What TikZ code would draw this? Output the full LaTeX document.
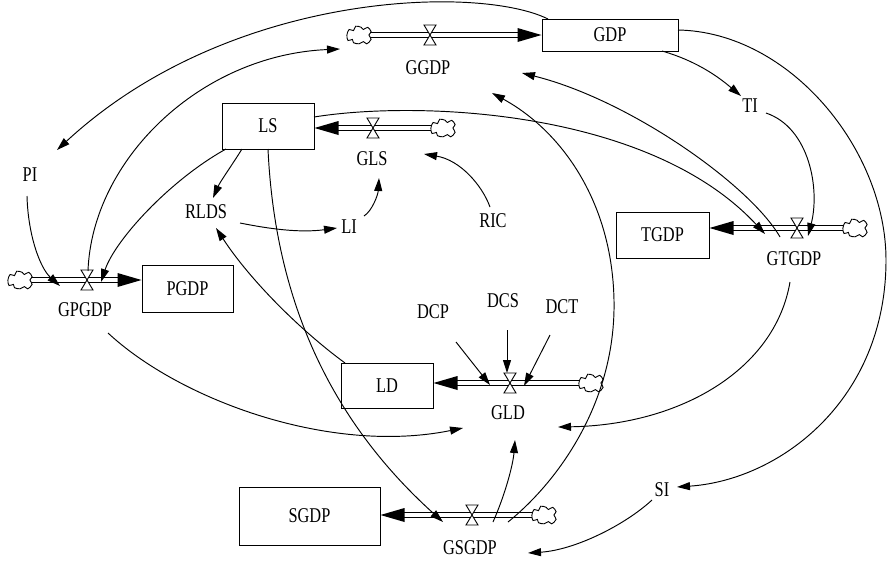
\documentclass[tikz,border=0pt]{standalone}
\usepackage{fontspec}
\setmainfont{Liberation Serif}[FakeStretch=0.78]
\usetikzlibrary{arrows.meta,calc}
\begin{document}
\begin{tikzpicture}[x=1pt,y=-1pt,
  every node/.style={font=\fontsize{21}{23}\selectfont},
  stock/.style={draw, line width=1pt, inner sep=0pt},
  var/.style={inner sep=2pt},
  link/.style={line width=0.95pt, -{Triangle[length=13pt,width=8pt]}},
  pipe/.style={line width=0.9pt},
  pipehead/.style={fill=black},
  srcsink/.pic={\draw[fill=white, line width=0.9pt, scale=1.1] plot[smooth cycle, tension=0.55]
      coordinates {(-11,0) (-9,-5) (-5,-4) (-3,-8) (2,-7) (4,-5) (8,-7) (11,-3)
                   (9,0) (11,4) (7,8) (4,6) (0,8) (-5,7) (-6,4) (-10,5)};},
  valve/.pic={\draw[fill=white, line width=0.9pt] (-6,-10) -- (6,-10) -- (-6,10) -- (6,10) -- cycle;}]
\useasboundingbox (0,0) rectangle (889,560);

% ---------- stocks ----------
\node[stock, minimum width=136pt, minimum height=32pt] (GDP)  at (610,35)    {GDP};
\node[stock, minimum width=92pt,  minimum height=46pt] (LS)   at (268,126)   {LS};
\node[stock, minimum width=91pt,  minimum height=47pt] (PGDP) at (187.5,288.5) {PGDP};
\node[stock, minimum width=93pt,  minimum height=46pt] (TGDP) at (662.5,235) {TGDP};
\node[stock, minimum width=92pt,  minimum height=45pt] (LD)   at (387,385.5) {LD};
\node[stock, minimum width=141pt, minimum height=58pt] (SGDP) at (309.5,516) {SGDP};

% ---------- sources / valves ----------
\coordinate (cGGDP)  at (359,35);   \coordinate (vGGDP)  at (430,35);
\coordinate (cGLS)   at (443,128);  \coordinate (vGLS)   at (373,128);
\coordinate (cGPGDP) at (20,280);   \coordinate (vGPGDP) at (87,280);
\coordinate (cGTGDP) at (855,228);  \coordinate (vGTGDP) at (797,228);
\coordinate (cGLD)   at (591,383);  \coordinate (vGLD)   at (510,383);
\coordinate (cGSGDP) at (544,515);  \coordinate (vGSGDP) at (472,515);

\coordinate (hGGDP)  at (cGGDP -| GDP.west);
\coordinate (hGLS)   at (cGLS -| LS.east);
\coordinate (hGPGDP) at (cGPGDP -| PGDP.west);
\coordinate (hGTGDP) at (cGTGDP -| TGDP.east);
\coordinate (hGLD)   at (cGLD -| LD.east);
\coordinate (hGSGDP) at (cGSGDP -| SGDP.east);

% ---------- flow pipes (two parallel lines each) ----------
\foreach \f/\d in {GGDP/-1,GPGDP/-1,GLS/1,GTGDP/1,GLD/1,GSGDP/1}{
  \draw[pipe] ($(c\f)+(0,-2.2)$) -- ($(h\f)+(\d*22,-2.2)$)
              ($(c\f)+(0,2.2)$)  -- ($(h\f)+(\d*22,2.2)$);
  \fill[pipehead] (h\f) -- ++(\d*24,-7) -- ++(0,14) -- cycle;
  \pic at (c\f) {srcsink};
  \pic at (v\f) {valve};
}

% ---------- flow names ----------
\node[var] (GGDP)  at (428,68)  {GGDP};
\node[var] (GLS)   at (372,159) {GLS};
\node[var] (GPGDP) at (85,310)  {GPGDP};
\node[var] (GTGDP) at (794,259) {GTGDP};
\node[var] (GLD)   at (508,413) {GLD};
\node[var] (GSGDP) at (470,548) {GSGDP};

% ---------- auxiliaries ----------
\node[var] (PI)   at (30,175)  {PI};
\node[var] (RLDS) at (206,212) {RLDS};
\node[var] (LI)   at (349,227) {LI};
\node[var] (RIC)  at (493,221) {RIC};
\node[var] (TI)   at (750,106) {TI};
\node[var] (DCP)  at (433,312) {DCP};
\node[var] (DCS)  at (503,301) {DCS};
\node[var] (DCT)  at (562,307) {DCT};
\node[var] (SI)   at (662,490) {SI};

% ---------- causal links ----------
\draw[link] ($(GDP)+(-62,-16)$) .. controls (480,-15) and (230,-10) .. ($(PI)+(27,-25)$);
\draw[link] ($(GDP)+(52,16)$) .. controls (700,62) and (722,80) .. ($(TI)+(-9,-10)$);
\draw[link] ($(GDP)+(68,-5)$) .. controls (790,32) and (886,150) .. (886,260)
            .. controls (886,400) and (780,480) .. ($(SI)+(15,-3)$);
\draw[link] ($(TI)+(16,7)$) .. controls (810,128) and (820,190) .. ($(vGTGDP)+(11,8)$);
\draw[link] ($(vGTGDP)+(-17,9)$) .. controls (750,185) and (630,100) .. ($(GGDP)+(94,5)$);
\draw[link] ($(LS)+(46,-9)$) .. controls (420,100) and (650,110) .. ($(vGTGDP)+(-32,6)$);
\draw[link] ($(GTGDP)+(-4,23)$) .. controls (775,370) and (680,425) .. ($(GLD)+(50,14)$);
\draw[link] ($(vGPGDP)+(1,-9)$) .. controls (92,160) and (200,55) .. ($(cGGDP)+(-19,14)$);
\draw[link] ($(LS)+(-42,23)$) .. controls (170,180) and (115,240) .. ($(vGPGDP)+(14,2)$);
\draw[link] ($(LS)+(-26,23)$) .. controls (232,165) and (220,182) .. ($(RLDS)+(7,-14)$);
\draw[link] ($(LS)+(0,23)$) .. controls (275,300) and (330,420) .. ($(vGSGDP)+(-29,7)$);
\draw[link] ($(RLDS)+(34,11)$) .. controls (270,229) and (300,233) .. ($(LI)+(-12,1)$);
\draw[link] ($(LI)+(15,-11)$) .. controls (372,211) and (378,195) .. ($(GLS)+(7,19)$);
\draw[link] ($(RIC)+(-3,-14)$) .. controls (482,185) and (460,160) .. ($(GLS)+(52,-5)$);
\draw[link] ($(LD)+(-42,-22.5)$) .. controls (300,330) and (250,280) .. ($(RLDS)+(10,16)$);
\draw[link] ($(PI)+(-3,21)$) .. controls (28,235) and (40,268) .. ($(vGPGDP)+(-27,6)$);
\draw[link] ($(GPGDP)+(23,23)$) .. controls (180,400) and (330,455) .. ($(GLD)+(-45,15)$);
\draw[link] ($(DCP)+(23,30)$) -- ($(vGLD)+(-20,2)$);
\draw[link] ($(DCS)+(4,29)$) -- ($(vGLD)+(-3,-10)$);
\draw[link] ($(DCT)+(-12,28)$) -- ($(vGLD)+(14,3)$);
\draw[link] ($(vGSGDP)+(21,7)$) .. controls (505,495) and (513,465) .. ($(GLD)+(7,27)$);
\draw[link] ($(vGSGDP)+(36,7)$) .. controls (560,480) and (616,400) .. (614,300)
            .. controls (612,200) and (560,130) .. ($(GGDP)+(64,25)$);
\draw[link] ($(SI)+(-10,10)$) .. controls (625,525) and (575,550) .. ($(GSGDP)+(58,5)$);
\end{tikzpicture}
\end{document}
